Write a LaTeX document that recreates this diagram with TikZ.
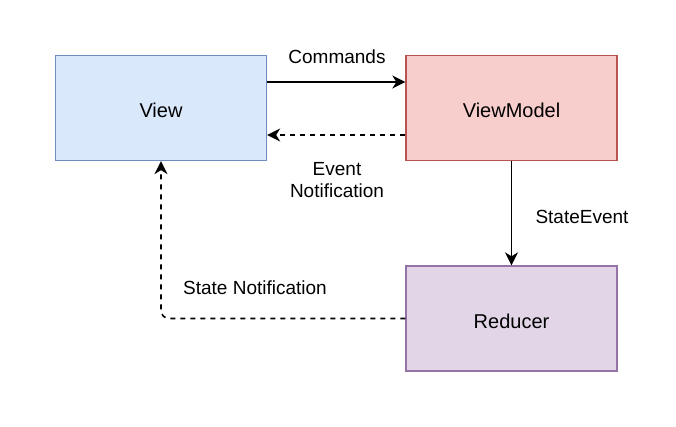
\documentclass[tikz,border=0pt]{standalone}
\usepackage{fontspec}
\setmainfont{Liberation Sans}
\usetikzlibrary{arrows.meta}
\definecolor{bluefill}{HTML}{DAE8FC}
\definecolor{bluedraw}{HTML}{6C8EBF}
\definecolor{redfill}{HTML}{F8CECC}
\definecolor{reddraw}{HTML}{B85450}
\definecolor{purplefill}{HTML}{E1D5E7}
\definecolor{purpledraw}{HTML}{9673A6}
\newcommand{\boxtext}[1]{\fontsize{20}{24}\selectfont\raisebox{-9.6pt}[0pt][0pt]{#1}}
\begin{document}
\begin{tikzpicture}[x=1pt,y=-1pt,
  font=\fontsize{19}{22}\selectfont,
  box/.style={draw, line width=1.3pt, minimum width=211pt, minimum height=105pt, inner sep=0pt},
  conn/.style={line width=1.6pt, -{Stealth[length=13pt,width=13pt,inset=4pt]}},
  dashconn/.style={conn, dash pattern=on 5pt off 5pt},
  lbl/.style={inner sep=0pt, align=center}]
\useasboundingbox[fill=white] (0,0) rectangle (676,427);
\node[box, fill=bluefill, draw=bluedraw] (View) at (161,108) {\boxtext{View}};
\node[box, fill=redfill, draw=reddraw] (VM) at (511.5,108) {\boxtext{ViewModel}};
\node[box, fill=purplefill, draw=purpledraw] (Red) at (511.5,318.5) {\boxtext{Reducer}};
\draw[conn] ([yshift=26pt]View.east) -- ([yshift=26pt]VM.west);
\draw[dashconn] ([yshift=-27pt]VM.west) -- ([yshift=-27pt]View.east);
\draw[conn] (VM.south) -- (Red.north);
\draw[dashconn, rounded corners=8pt] (Red.west) -| (View.south);
\node[lbl] (cmd) at (337,57) {Commands};
\node[lbl] (evn) at (337,180.5) {Event\\Notification};
\node[lbl] (se) at (582,217) {StateEvent};
\node[lbl] (sn) at (255,288) {State Notification};
\end{tikzpicture}
\end{document}
